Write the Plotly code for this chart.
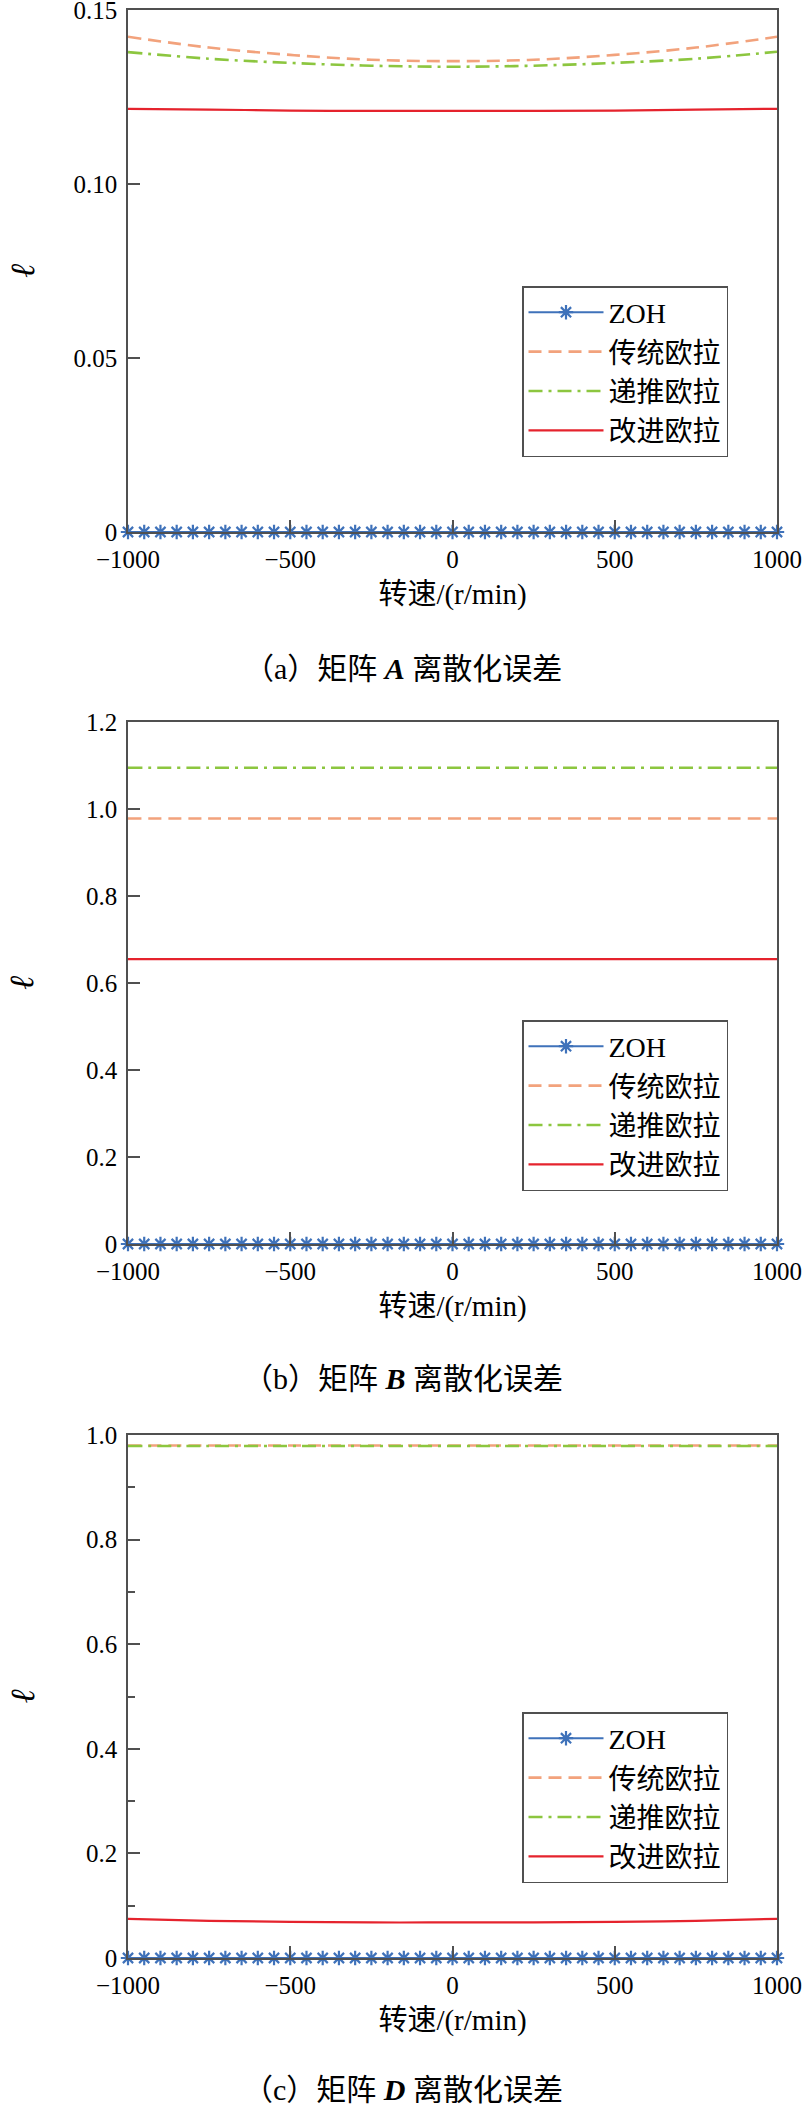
import plotly.graph_objects as go

# ---------------- data ----------------
speed_zoh = [-1000, -950, -900, -850, -800, -750, -700, -650, -600, -550,
             -500, -450, -400, -350, -300, -250, -200, -150, -100, -50,
             0, 50, 100, 150, 200, 250, 300, 350, 400, 450,
             500, 550, 600, 650, 700, 750, 800, 850, 900, 950, 1000]
zoh_err = [0, 0, 0, 0, 0, 0, 0, 0, 0, 0,
           0, 0, 0, 0, 0, 0, 0, 0, 0, 0,
           0, 0, 0, 0, 0, 0, 0, 0, 0, 0,
           0, 0, 0, 0, 0, 0, 0, 0, 0, 0, 0]

speed = [-1000, -750, -500, -250, 0, 250, 500, 750, 1000]

# (a) matrix A
a_trad = [0.1423, 0.1392, 0.1371, 0.1357, 0.1353, 0.1357, 0.1371, 0.1392, 0.1423]
a_recur = [0.1379, 0.1360, 0.1348, 0.1340, 0.1337, 0.1340, 0.1348, 0.1360, 0.1380]
a_impr = [0.1216, 0.1214, 0.1211, 0.1210, 0.1210, 0.1210, 0.1211, 0.1214, 0.1216]

# (b) matrix B
b_trad = [0.978, 0.978, 0.978, 0.978, 0.978, 0.978, 0.978, 0.978, 0.978]
b_recur = [1.095, 1.095, 1.095, 1.095, 1.095, 1.095, 1.095, 1.095, 1.095]
b_impr = [0.655, 0.655, 0.655, 0.655, 0.655, 0.655, 0.655, 0.655, 0.655]

# (c) matrix D
d_trad = [0.980, 0.980, 0.980, 0.980, 0.980, 0.980, 0.980, 0.980, 0.980]
d_recur = [0.979, 0.979, 0.979, 0.979, 0.979, 0.979, 0.979, 0.979, 0.979]
d_impr = [0.075, 0.071, 0.069, 0.068, 0.068, 0.068, 0.069, 0.071, 0.075]

series_names = ["ZOH", "传统欧拉", "递推欧拉", "改进欧拉"]
x_tickvals = [-1000, -500, 0, 500, 1000]

a_tickvals = [0, 0.05, 0.10, 0.15]
a_ticktext = ["0", "0.05", "0.10", "0.15"]
b_tickvals = [0, 0.2, 0.4, 0.6, 0.8, 1.0, 1.2]
b_ticktext = ["0", "0.2", "0.4", "0.6", "0.8", "1.0", "1.2"]
d_tickvals = [0, 0.2, 0.4, 0.6, 0.8, 1.0]
d_ticktext = ["0", "0.2", "0.4", "0.6", "0.8", "1.0"]

captions = ["（a）矩阵 <b><i>A</i></b> 离散化误差",
            "（b）矩阵 <b><i>B</i></b> 离散化误差",
            "（c）矩阵 <b><i>D</i></b> 离散化误差"]
x_title = "转速/(r/min)"
y_title = "<i>ℓ</i>"

# ---------------- style ----------------
W, H = 806, 2106
SERIF = "'Liberation Serif', 'Times New Roman', 'Noto Sans CJK SC', serif"
C_BLUE = "#3F72BA"
C_ORANGE = "#F2A27C"
C_GREEN = "#8CC63F"
C_RED = "#E5232D"
AX = "#505050"

def py(pix):
    return 1 - pix / H

panels = [
    dict(trad=a_trad, recur=a_recur, impr=a_impr, top=10, bot=532, rng=[0, 0.15000001],
         tv=a_tickvals, tt=a_ticktext, leg_top=286, cap=668, minor=False),
    dict(trad=b_trad, recur=b_recur, impr=b_impr, top=722, bot=1244, rng=[0, 1.2000001],
         tv=b_tickvals, tt=b_ticktext, leg_top=1020, cap=1378, minor=False),
    dict(trad=d_trad, recur=d_recur, impr=d_impr, top=1435, bot=1958, rng=[0, 1.0000001],
         tv=d_tickvals, tt=d_ticktext, leg_top=1712, cap=2089, minor=True),
]

fig = go.Figure()
annotations = []
x_dom = [128 / W, 777 / W]

for i, p in enumerate(panels):
    k = "" if i == 0 else str(i + 1)
    xa, ya = "x" + k, "y" + k
    leg = "legend" + k
    fig.add_trace(go.Scatter(x=speed_zoh, y=zoh_err, name=series_names[0], mode="lines+markers",
                             line=dict(color=C_BLUE, width=2),
                             marker=dict(symbol="asterisk-open", size=12,
                                         line=dict(color=C_BLUE, width=2.2)),
                             cliponaxis=False, xaxis=xa, yaxis=ya, legend=leg))
    fig.add_trace(go.Scatter(x=speed, y=p["trad"], name=series_names[1], mode="lines",
                             line=dict(color=C_ORANGE, width=2.6, dash="13px,7px", shape="spline"),
                             xaxis=xa, yaxis=ya, legend=leg))
    fig.add_trace(go.Scatter(x=speed, y=p["recur"], name=series_names[2], mode="lines",
                             line=dict(color=C_GREEN, width=2.6, dash="14px,6px,3px,6px", shape="spline"),
                             xaxis=xa, yaxis=ya, legend=leg))
    fig.add_trace(go.Scatter(x=speed, y=p["impr"], name=series_names[3], mode="lines",
                             line=dict(color=C_RED, width=2.2, shape="spline"),
                             xaxis=xa, yaxis=ya, legend=leg))

    common = dict(showline=True, linecolor=AX, linewidth=1.5, mirror=True,
                  ticks="inside", ticklen=12, tickcolor=AX, tickwidth=1.5,
                  showgrid=False, zeroline=False, ticklabeloverflow="allow",
                  tickfont=dict(family=SERIF, size=25, color="black"))
    xaxis = dict(common, domain=x_dom, anchor=ya, range=[-1000, 1000],
                 tickmode="array", tickvals=x_tickvals, ticklabelstandoff=4,
                 title=dict(text=x_title, font=dict(family=SERIF, size=29, color="black"),
                            standoff=12))
    yaxis = dict(common, domain=[py(p["bot"]), py(p["top"])], anchor=xa, range=p["rng"],
                 tickmode="array", tickvals=p["tv"], ticktext=p["tt"], ticklabelstandoff=4)
    if p["minor"]:
        yaxis["minor"] = dict(ticks="inside", ticklen=7, tickcolor=AX, tickwidth=1.5, dtick=0.1,
                              showgrid=False)
    fig.update_layout(**{"xaxis" + k: xaxis, "yaxis" + k: yaxis})
    fig.update_layout(**{leg: dict(x=522 / W, y=py(p["leg_top"]), xanchor="left", yanchor="top",
                                   bgcolor="white", bordercolor=AX, borderwidth=1.5,
                                   font=dict(family=SERIF, size=28, color="black"),
                                   itemwidth=75, tracegroupgap=0, traceorder="normal")})
    annotations.append(dict(text=y_title, xref="paper", yref="paper", x=22 / W,
                            y=py((p["top"] + p["bot"]) / 2), xanchor="center", yanchor="middle",
                            showarrow=False, textangle=-90,
                            font=dict(family="'Liberation Serif', 'DejaVu Serif', serif", size=34,
                                      color="black")))
    annotations.append(dict(text=captions[i], xref="paper", yref="paper", x=0.5,
                            y=py(p["cap"]), xanchor="center", yanchor="middle", showarrow=False,
                            font=dict(family=SERIF, size=30, color="black")))

fig.update_layout(width=W, height=H, margin=dict(l=0, r=0, t=0, b=0, autoexpand=False),
                  paper_bgcolor="white", plot_bgcolor="white", annotations=annotations,
                  showlegend=True)

fig.write_html("out.html")
